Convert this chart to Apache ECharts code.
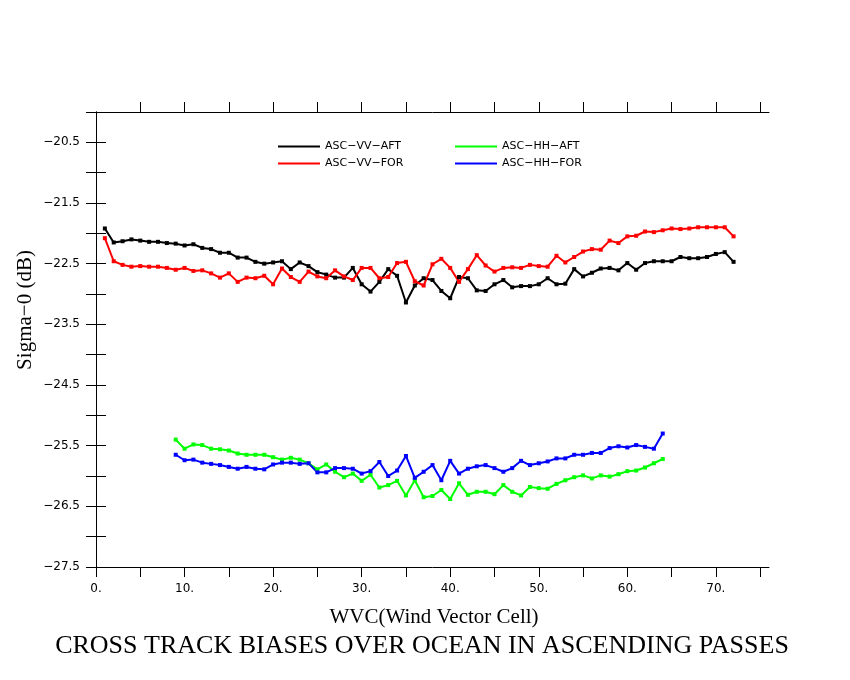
<!DOCTYPE html>
<html>
<head>
<meta charset="utf-8">
<title>Cross track biases</title>
<script src="https://cdn.jsdelivr.net/npm/echarts@6/dist/echarts.min.js"></script>
<style>
    html, body { margin: 0; padding: 0; background: #fff; }
    #main { width: 850px; height: 680px; }
</style>
</head>
<body>
<div id="main"></div>
<script>
// 数据：WVC 序号从 vvStart / hhStart 开始，每格一个值
var vvStart = 1;
var hhStart = 9;

var vvAft = [-21.92, -22.15, -22.13, -22.10, -22.12, -22.14, -22.14, -22.16, -22.17, -22.20,
    -22.18, -22.24, -22.26, -22.32, -22.32, -22.40, -22.40, -22.47, -22.50, -22.48,
    -22.46, -22.59, -22.48, -22.54, -22.64, -22.68, -22.73, -22.73, -22.57, -22.84,
    -22.96, -22.80, -22.59, -22.70, -23.14, -22.86, -22.74, -22.77, -22.95, -23.07,
    -22.72, -22.74, -22.94, -22.95, -22.84, -22.77, -22.89, -22.87, -22.87, -22.84,
    -22.74, -22.84, -22.83, -22.59, -22.71, -22.65, -22.58, -22.57, -22.61, -22.49,
    -22.60, -22.49, -22.46, -22.46, -22.46, -22.39, -22.41, -22.41, -22.39, -22.34,
    -22.31, -22.47];

var vvFor = [-22.08, -22.46, -22.52, -22.55, -22.54, -22.55, -22.55, -22.57, -22.60, -22.57,
    -22.62, -22.61, -22.66, -22.73, -22.66, -22.80, -22.73, -22.74, -22.70, -22.84,
    -22.58, -22.72, -22.80, -22.63, -22.71, -22.74, -22.61, -22.71, -22.77, -22.57,
    -22.57, -22.74, -22.72, -22.49, -22.47, -22.79, -22.86, -22.51, -22.42, -22.57,
    -22.80, -22.59, -22.36, -22.53, -22.63, -22.57, -22.56, -22.57, -22.52, -22.54,
    -22.55, -22.37, -22.48, -22.39, -22.30, -22.26, -22.27, -22.12, -22.16, -22.05,
    -22.04, -21.97, -21.98, -21.95, -21.92, -21.93, -21.92, -21.90, -21.90, -21.90,
    -21.90, -22.05];

var hhAft = [-25.40, -25.55, -25.48, -25.49, -25.55, -25.56, -25.58, -25.63, -25.65, -25.65,
    -25.65, -25.69, -25.73, -25.70, -25.73, -25.79, -25.89, -25.81, -25.93, -26.02,
    -25.96, -26.08, -25.98, -26.19, -26.15, -26.08, -26.32, -26.07, -26.35, -26.33,
    -26.23, -26.38, -26.12, -26.31, -26.26, -26.26, -26.30, -26.15, -26.26, -26.32,
    -26.18, -26.20, -26.21, -26.13, -26.07, -26.02, -25.99, -26.04, -25.99, -26.01,
    -25.97, -25.92, -25.91, -25.86, -25.79, -25.72];

var hhFor = [-25.65, -25.74, -25.73, -25.78, -25.80, -25.82, -25.85, -25.88, -25.85, -25.88,
    -25.89, -25.81, -25.78, -25.78, -25.80, -25.79, -25.94, -25.94, -25.87, -25.87,
    -25.88, -25.96, -25.92, -25.77, -26.00, -25.91, -25.67, -26.03, -25.93, -25.82,
    -26.07, -25.75, -25.96, -25.88, -25.84, -25.82, -25.87, -25.93, -25.87, -25.75,
    -25.82, -25.79, -25.76, -25.71, -25.71, -25.65, -25.65, -25.62, -25.62, -25.54,
    -25.51, -25.53, -25.49, -25.52, -25.55, -25.30];

// 刻度
var xTicksBottom = [0, 5, 10, 15, 20, 25, 30, 35, 40, 45, 50, 55, 60, 65, 70, 75];
var xTicksTop = [5, 10, 15, 20, 25, 30, 35, 40, 45, 50, 55, 60, 65, 70, 75];
var xLabels = [0, 10, 20, 30, 40, 50, 60, 70];
var yLabels = [-20.5, -21.5, -22.5, -23.5, -24.5, -25.5, -26.5, -27.5];

var seriesNames = ['ASC\u2212VV\u2212AFT', 'ASC\u2212VV\u2212FOR', 'ASC\u2212HH\u2212AFT', 'ASC\u2212HH\u2212FOR'];
var seriesColors = ['#000000', '#ff0000', '#00ff00', '#0000ff'];

function toPairs(start, values) {
    var out = [];
    for (var i = 0; i < values.length; i++) {
        out.push([start + i, values[i]]);
    }
    return out;
}

var tickFont = { fontFamily: 'DejaVu Sans', fontSize: 12, color: '#000' };
var serifFont = 'Liberation Serif';

function makeLine(name, color, pairs) {
    return {
        name: name,
        type: 'line',
        data: pairs,
        symbol: 'rect',
        symbolSize: 4,
        showSymbol: true,
        itemStyle: { color: color },
        lineStyle: { color: color, width: 2 },
        emphasis: { disabled: true }
    };
}

var myChart = echarts.init(document.getElementById('main'));

var option = {
    animation: false,
    backgroundColor: '#fff',
    title: {
        text: 'CROSS TRACK BIASES OVER OCEAN IN ASCENDING PASSES',
        left: 417,
        textAlign: 'center',
        top: 628,
        textStyle: { fontFamily: serifFont, fontSize: 26, fontWeight: 'normal', color: '#000' }
    },
    legend: [{
        data: [seriesNames[0], seriesNames[1]],
        orient: 'vertical',
        left: 273,
        top: 135,
        icon: 'rect',
        itemWidth: 42,
        itemHeight: 2,
        itemGap: 4,
        selectedMode: false,
        textStyle: { fontFamily: 'DejaVu Sans', fontSize: 11, lineHeight: 13, color: '#000' }
    }, {
        data: [seriesNames[2], seriesNames[3]],
        orient: 'vertical',
        left: 450,
        top: 135,
        icon: 'rect',
        itemWidth: 42,
        itemHeight: 2,
        itemGap: 4,
        selectedMode: false,
        textStyle: { fontFamily: 'DejaVu Sans', fontSize: 11, lineHeight: 13, color: '#000' }
    }],
    grid: {
        left: 96,
        right: 81,
        top: 112,
        bottom: 113,
        containLabel: false
    },
    xAxis: [{
        type: 'value',
        position: 'bottom',
        min: 0,
        max: 76,
        interval: 5,
        splitLine: { show: false },
        axisLine: { lineStyle: { color: '#000', width: 1 } },
        axisTick: { inside: false, length: 10, customValues: xTicksBottom, lineStyle: { color: '#000' } },
        axisLabel: {
            customValues: xLabels,
            margin: 16,
            formatter: function (v) { return v + '.'; },
            fontFamily: tickFont.fontFamily,
            fontSize: tickFont.fontSize,
            color: '#000'
        }
    }, {
        type: 'value',
        position: 'top',
        min: 0,
        max: 76,
        interval: 5,
        splitLine: { show: false },
        axisLine: { lineStyle: { color: '#000', width: 1 } },
        axisTick: { inside: false, length: 10, customValues: xTicksTop, lineStyle: { color: '#000' } },
        axisLabel: { show: false }
    }],
    yAxis: [{
        type: 'value',
        position: 'left',
        min: -27.5,
        max: -20,
        interval: 0.5,
        splitLine: { show: false },
        axisLine: { show: true, lineStyle: { color: '#000', width: 1 } },
        axisTick: { show: true, inside: false, length: 10, lineStyle: { color: '#000' } },
        axisLabel: {
            customValues: yLabels,
            margin: 16,
            formatter: function (v) { return '\u2212' + Math.abs(v).toFixed(1); },
            fontFamily: tickFont.fontFamily,
            fontSize: tickFont.fontSize,
            color: '#000'
        }
    }, {
        type: 'value',
        position: 'right',
        min: -27.5,
        max: -20,
        interval: 0.5,
        splitLine: { show: false },
        axisLine: { show: true, lineStyle: { color: '#000', width: 1 } },
        axisTick: { show: true, inside: false, length: 10, lineStyle: { color: '#000' } },
        axisLabel: { show: false }
    }],
    graphic: [{
        // x 轴名称
        type: 'text',
        x: 434,
        y: 617,
        style: {
            text: 'WVC(Wind Vector Cell)',
            fontFamily: serifFont,
            fontSize: 21,
            fill: '#000',
            align: 'center',
            verticalAlign: 'middle'
        }
    }, {
        // y 轴名称
        type: 'text',
        x: 25,
        y: 310,
        rotation: Math.PI / 2,
        style: {
            text: 'Sigma\u22120 (dB)',
            fontFamily: serifFont,
            fontSize: 21,
            fill: '#000',
            align: 'center',
            verticalAlign: 'middle'
        }
    }],
    series: [
        makeLine(seriesNames[0], seriesColors[0], toPairs(vvStart, vvAft)),
        makeLine(seriesNames[1], seriesColors[1], toPairs(vvStart, vvFor)),
        makeLine(seriesNames[2], seriesColors[2], toPairs(hhStart, hhAft)),
        makeLine(seriesNames[3], seriesColors[3], toPairs(hhStart, hhFor))
    ]
};

myChart.setOption(option);
</script>
</body>
</html>
